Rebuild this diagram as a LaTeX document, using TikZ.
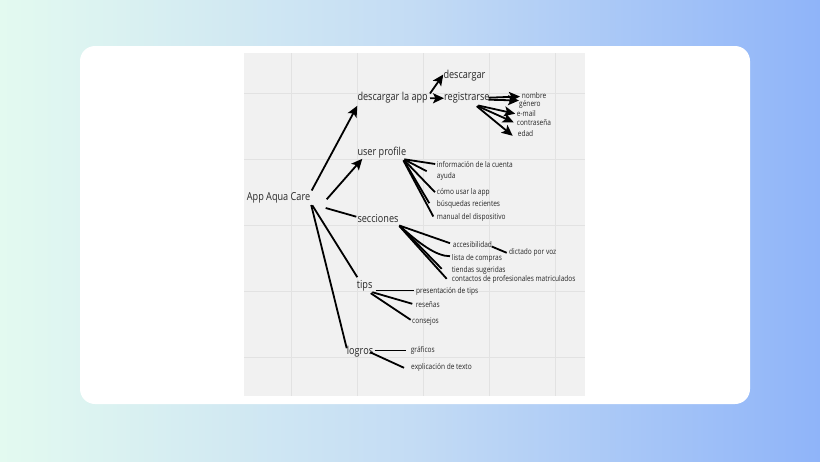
\documentclass[tikz,border=0pt]{standalone}
\usepackage{fontspec}
\usepackage{graphicx}
\setmainfont{Open Sans}
\usetikzlibrary{arrows.meta,calc}
\definecolor{bgL}{HTML}{E3FAF0}
\definecolor{bgM}{HTML}{C4DCF4}
\definecolor{bgR}{HTML}{8FB4F9}
\definecolor{panel}{HTML}{F1F1F1}
\definecolor{gridc}{HTML}{E2E2E2}
\definecolor{txt}{HTML}{262626}
\newcommand{\sx}[1]{\scalebox{0.83}[1]{#1}}
\tikzset{
  big/.style={anchor=west, inner sep=0pt, text=txt, font=\fontsize{11}{12}\selectfont},
  sm/.style={anchor=west, inner sep=0pt, text=txt, font=\fontsize{7.9}{9}\selectfont},
  conn/.style={line width=1.8pt, black},
  arr/.style={conn, -{Stealth[length=11pt,width=10pt,inset=2.5pt]}}
}
\begin{document}
\begin{tikzpicture}[x=1pt,y=-1pt]
\useasboundingbox (0,0) rectangle (820,461);
\shade[left color=bgL, right color=bgR, middle color=bgM] (0,0) rectangle (820,461);
\fill[white, rounded corners=15pt] (80,46) rectangle (750,404);
\fill[panel] (244,53) rectangle (585,396);
\foreach \gx in {291,357,423,489,555} \draw[gridc, line width=0.8pt] (\gx,53) -- (\gx,396);
\foreach \gy in {93,159,225,291,357} \draw[gridc, line width=0.8pt] (244,\gy) -- (585,\gy);

% main nodes
\node[big] (root) at (246.7,198) {\sx{App Aqua Care}};
\node[big] (dapp) at (357.3,97.8) {\sx{descargar la app}};
\node[big] (desc) at (443.3,75.5) {\sx{descargar}};
\node[big] (reg) at (444,98.2) {\sx{registrarse}};
\node[big] (up) at (357.3,152.8) {\sx{user profile}};
\node[big] (sec) at (357.3,218.2) {\sx{secciones}};
\node[big] (tips) at (356.7,285.5) {\sx{tips}};
\node[big] (logros) at (346.7,351.2) {\sx{logros}};

% small nodes
\node[sm] (nombre) at (521.7,95.5) {\sx{nombre}};
\node[sm] (genero) at (519,104.8) {\sx{género}};
\node[sm] (email) at (516.7,113.2) {\sx{e-mail}};
\node[sm] (contra) at (516.7,122.8) {\sx{contraseña}};
\node[sm] (edad) at (517.7,133.8) {\sx{edad}};
\node[sm] (info) at (436.7,164.5) {\sx{información de la cuenta}};
\node[sm] (ayuda) at (436.7,176.2) {\sx{ayuda}};
\node[sm] (como) at (436.7,192.2) {\sx{cómo usar la app}};
\node[sm] (busq) at (436.7,204.5) {\sx{búsquedas recientes}};
\node[sm] (manual) at (436.7,217.5) {\sx{manual del dispositivo}};
\node[sm] (acc) at (452.7,244.5) {\sx{accesibilidad}};
\node[sm] (dict) at (509,252.5) {\sx{dictado por voz}};
\node[sm] (lista) at (451.7,258.2) {\sx{lista de compras}};
\node[sm] (tiendas) at (451.7,270.5) {\sx{tiendas sugeridas}};
\node[sm] (contactos) at (451.7,279.8) {\sx{contactos de profesionales matriculados}};
\node[sm] (pres) at (416,291.2) {\sx{presentación de tips}};
\node[sm] (resenas) at (415.7,304.8) {\sx{reseñas}};
\node[sm] (consejos) at (412,321.2) {\sx{consejos}};
\node[sm] (graficos) at (410.7,350.5) {\sx{gráficos}};
\node[sm] (expl) at (411,367.8) {\sx{explicación de texto}};

% root connectors
\draw[arr] ($(root.west)+(65,-7.5)$) -- ($(dapp.west)+(0,8)$);
\draw[arr] ($(root.west)+(80,1.3)$) -- ($(up.west)+(5,6)$);
\draw[conn] ($(root.west)+(79,10)$) -- ($(sec.west)+(-1,-1.5)$);
\draw[conn] ($(root.west)+(65.6,7.3)$) -- ($(tips.west)+(0.6,-8.3)$);
\draw[conn] ($(root.west)+(64.5,7)$) -- ($(logros.west)+(0,-3)$);

% descargar la app
\draw[arr] ($(dapp.west)+(72.7,-4.3)$) -- ($(desc.west)+(0,-1)$);
\draw[arr] ($(dapp.west)+(72.7,0.5)$) -- (reg.west);

% registrarse
\draw[arr] ($(reg.west)+(44.5,-0.5)$) -- ($(nombre.west)+(-1.7,1)$);
\draw[arr] ($(reg.west)+(44.5,1.5)$) -- ($(genero.west)+(0,-4.3)$);
\draw[arr] ($(reg.west)+(34.3,7.3)$) -- ($(email.west)+(-1.5,0.5)$);
\draw[arr] ($(reg.west)+(33.5,7.8)$) -- ($(contra.west)+(-3,-0.5)$);
\draw[arr] ($(reg.west)+(32.7,8)$) -- ($(edad.west)+(-5,2)$);

% user profile
\draw[conn] ($(up.west)+(47,6.5)$) -- ($(info.west)+(-1.5,-0.5)$);
\draw[conn] ($(up.west)+(47.5,7)$) -- ($(ayuda.west)+(-10,-5)$);
\draw[conn] ($(up.west)+(47,7.5)$) -- ($(como.west)+(-1.7,0)$);
\draw[conn] ($(up.west)+(46.5,7.5)$) -- ($(busq.west)+(-7.4,-1.3)$);
\draw[conn] ($(up.west)+(46,7.5)$) -- ($(manual.west)+(-3.4,-1)$);

% secciones
\draw[conn] ($(sec.west)+(42,7.3)$) -- ($(acc.west)+(-2.7,-1.3)$);
\draw[conn] ($(sec.west)+(42,7.3)$) .. controls +(20,18) and +(-14,0) .. ($(lista.west)+(-1.7,-2)$);
\draw[conn] ($(sec.west)+(42.5,7.6)$) -- ($(tiendas.west)+(-10,-1.7)$);
\draw[conn] ($(sec.west)+(42,7.8)$) -- ($(contactos.west)+(-5,-1)$);
\draw[conn] ($(acc.west)+(39,2)$) -- ($(dict.west)+(-2.3,0.3)$);

% tips
\draw[conn] ($(tips.west)+(19,5)$) -- ($(pres.west)+(-2,-0.7)$);
\draw[conn] ($(tips.west)+(15.6,6.7)$) -- ($(resenas.west)+(-3.4,-1)$);
\draw[conn] ($(tips.west)+(14,7.7)$) -- ($(consejos.west)+(-1.3,-1.4)$);

% logros
\draw[conn] ($(logros.west)+(28,-0.7)$) -- ($(graficos.west)+(-4.4,0)$);
\draw[conn] ($(logros.west)+(23.3,1)$) -- ($(expl.west)+(-7,0)$);
\end{tikzpicture}
\end{document}
